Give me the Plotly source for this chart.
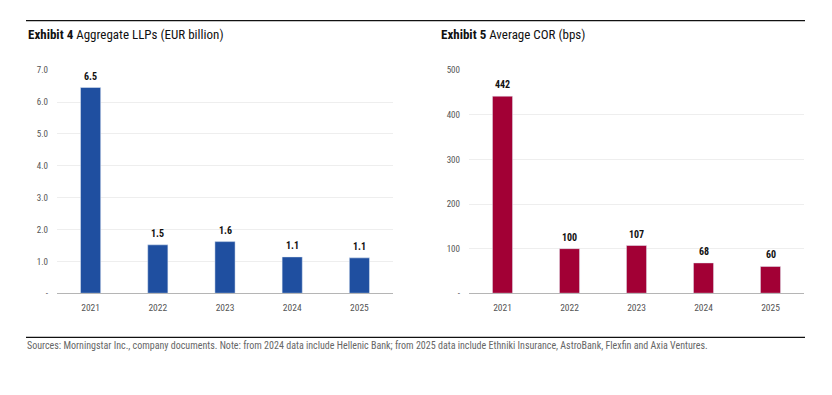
import plotly.graph_objects as go

years = ["2021", "2022", "2023", "2024", "2025"]
llp_values = [6.46, 1.52, 1.62, 1.14, 1.11]
llp_labels = ["6.5", "1.5", "1.6", "1.1", "1.1"]
cor_values = [442, 100, 107, 68, 60]
cor_labels = ["442", "100", "107", "68", "60"]
llp_ticks = [0, 1, 2, 3, 4, 5, 6, 7]
llp_ticktext = ["-", "1.0", "2.0", "3.0", "4.0", "5.0", "6.0", "7.0"]
cor_ticks = [0, 100, 200, 300, 400, 500]
cor_ticktext = ["-", "100", "200", "300", "400", "500"]

W, H = 832, 395
FONT = "Roboto Condensed, Liberation Sans Narrow, Liberation Sans, Arial, sans-serif"
BLUE = "#1f4fa0"
RED = "#a20035"

def px(x):
    return x / W

def py(y):
    return 1 - y / H

fig = go.Figure()
fig.add_trace(go.Bar(x=years, y=llp_values, marker_color=BLUE,
                     xaxis="x", yaxis="y", showlegend=False, hoverinfo="skip"))
fig.add_trace(go.Bar(x=years, y=cor_values, marker_color=RED,
                     xaxis="x2", yaxis="y2", showlegend=False, hoverinfo="skip"))

annotations = []
# category axes: annotation positions use the category index
for i, (v, t) in enumerate(zip(llp_values, llp_labels)):
    annotations.append(dict(x=i, y=v, xref="x", yref="y", text=f"<b>{t}</b>",
                            showarrow=False, yanchor="bottom", yshift=4,
                            font=dict(family=FONT, size=10, color="#111")))
for i, (v, t) in enumerate(zip(cor_values, cor_labels)):
    annotations.append(dict(x=i, y=v, xref="x2", yref="y2", text=f"<b>{t}</b>",
                            showarrow=False, yanchor="bottom", yshift=4,
                            font=dict(family=FONT, size=10, color="#111")))

annotations += [
    dict(x=px(26), y=py(30), xref="paper", yref="paper", xanchor="left", yanchor="middle",
         showarrow=False, text="<b>Exhibit 4</b> Aggregate LLPs (EUR billion)",
         font=dict(family=FONT, size=13, color="#111")),
    dict(x=px(439), y=py(30), xref="paper", yref="paper", xanchor="left", yanchor="middle",
         showarrow=False, text="<b>Exhibit 5</b> Average COR (bps)",
         font=dict(family=FONT, size=13, color="#111")),
    dict(x=px(25), y=py(349), xref="paper", yref="paper", xanchor="left", yanchor="middle",
         showarrow=False,
         text="Sources: Morningstar Inc., company documents. Note: from 2024 data include Hellenic Bank; from 2025 data include Ethniki Insurance, AstroBank, Flexfin and Axia Ventures.",
         font=dict(family=FONT, size=10, color="#666")),
]

shapes = [
    dict(type="line", xref="paper", yref="paper", x0=px(26), x1=px(805), y0=py(16), y1=py(16),
         line=dict(color="#111", width=1.3)),
    dict(type="line", xref="paper", yref="paper", x0=px(26), x1=px(805), y0=py(341), y1=py(341),
         line=dict(color="#111", width=1.3)),
]

axis_common = dict(type="category", categoryorder="array", categoryarray=years,
                   range=[-0.5, 4.5],
                   showline=True, linecolor="#b5b5b5", linewidth=1, ticks="",
                   tickfont=dict(family=FONT, size=9.5, color="#555"), showgrid=False,
                   fixedrange=True, ticklabelstandoff=5)
yaxis_common = dict(showgrid=True, gridcolor="#eeeeee", gridwidth=1, zeroline=False,
                    showline=False, ticks="", tickfont=dict(family=FONT, size=9, color="#555"),
                    fixedrange=True, ticklabelstandoff=8)

fig.update_layout(
    width=W, height=H,
    margin=dict(l=0, r=0, t=0, b=0),
    paper_bgcolor="white", plot_bgcolor="white",
    barmode="group", bargap=0.7,
    xaxis=dict(domain=[px(57), px(393)], anchor="y", **axis_common),
    yaxis=dict(domain=[py(295.7), py(67)], anchor="x", range=[0, 7],
               tickvals=llp_ticks, ticktext=llp_ticktext, **yaxis_common),
    xaxis2=dict(domain=[px(469), px(804)], anchor="y2", **axis_common),
    yaxis2=dict(domain=[py(295.7), py(67)], anchor="x2", range=[0, 500],
                tickvals=cor_ticks, ticktext=cor_ticktext, **yaxis_common),
    annotations=annotations,
    shapes=shapes,
)

fig.write_html("out.html", config={"displayModeBar": False},
               post_script="document.body.style.margin='0';")
